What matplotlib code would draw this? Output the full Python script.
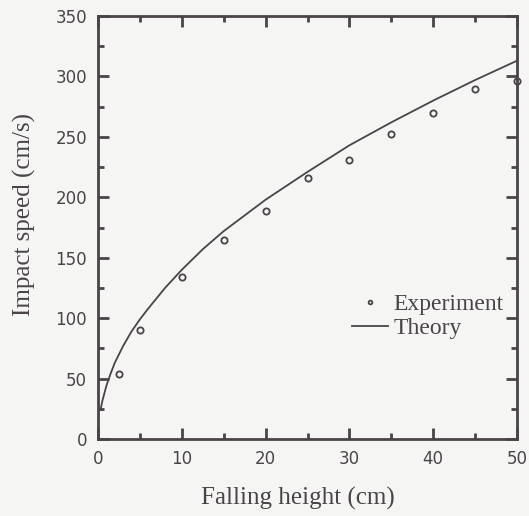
import matplotlib
matplotlib.use("Agg")
import matplotlib.pyplot as plt
from matplotlib.ticker import MultipleLocator

# Experiment data
exp_height = [2.5, 5, 10, 15, 20, 25, 30, 35, 40, 45, 50]
exp_speed = [54, 90, 134, 165, 189, 216, 231, 252, 270, 290, 296]

# Theory curve
th_height = [0.3, 0.5, 1, 1.5, 2, 3, 4, 5, 6, 8, 10, 12.5, 15, 17.5, 20, 25, 30, 35, 40, 45, 50]
th_speed = [24, 31, 44, 54, 63, 77, 89, 99, 108, 125, 140, 157, 172, 185, 198, 221, 243, 262, 280, 297, 313]

xticks = [0, 10, 20, 30, 40, 50]
yticks = [0, 50, 100, 150, 200, 250, 300, 350]

ink = "#4a4448"
bg = "#f5f5f4"
serif = ["Liberation Serif", "DejaVu Serif"]
narrow = ["Liberation Sans Narrow", "DejaVu Sans"]

fig = plt.figure(figsize=(5.29, 5.16), dpi=100, facecolor=bg)
ax = fig.add_axes([98/529, 1 - 439/516, 419/529, 423/516], facecolor=bg)

ax.plot(th_height, th_speed, color=ink, lw=1.3, label="Theory")
ax.plot(exp_height, exp_speed, linestyle="none", marker="o", markersize=4.5,
        markerfacecolor="none", markeredgecolor=ink, markeredgewidth=1.3,
        label="Experiment", clip_on=False)

ax.set_xlim(0, 50)
ax.set_ylim(0, 350)
ax.set_xticks(xticks)
ax.set_yticks(yticks)
ax.xaxis.set_minor_locator(MultipleLocator(5))
ax.yaxis.set_minor_locator(MultipleLocator(25))
ax.tick_params(which="both", direction="in", top=True, right=True, color=ink, width=2)
ax.tick_params(which="major", length=8, labelsize=12, labelcolor=ink, pad=8)
ax.tick_params(which="minor", length=4)
for lab in ax.get_xticklabels() + ax.get_yticklabels():
    lab.set_family(narrow)
for s in ax.spines.values():
    s.set_color(ink)
    s.set_linewidth(2)

ax.set_xlabel("Falling height (cm)", family=serif, fontsize=18, color=ink)
ax.set_ylabel("Impact speed (cm/s)", family=serif, fontsize=18, color=ink)
ax.xaxis.set_label_coords(0.477, -0.113)
ax.yaxis.set_label_coords(-0.148, 0.53)

handles, labels = ax.get_legend_handles_labels()
leg = ax.legend(handles[::-1], labels[::-1], loc="upper left",
                bbox_to_anchor=(0.584, 0.366), frameon=False,
                prop={"family": serif, "size": 17}, handlelength=1.5,
                handletextpad=0.25, labelspacing=0.1, markerscale=0.6,
                borderaxespad=0)
for t in leg.get_texts():
    t.set_color(ink)

fig.savefig("out.png", dpi=100, facecolor=bg)
